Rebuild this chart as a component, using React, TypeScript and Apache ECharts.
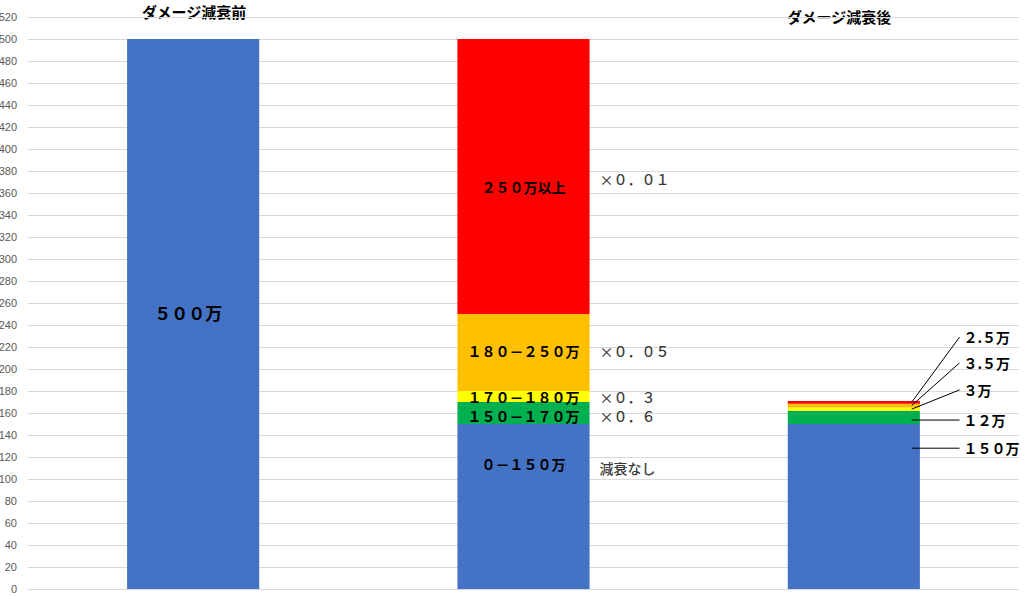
import React, { useEffect, useRef } from 'react';
import * as echarts from 'echarts';

const categories = ['減衰前', '減衰区分', '減衰後'];
const blueValues = [500, 150, 150];
const greenValues = [0, 20, 12];
const yellowValues = [0, 10, 3];
const orangeValues = [0, 70, 3.5];
const redValues = [0, 250, 2.5];

const beforeLabel = '５００万';
const bandLabels = ['０－１５０万', '１５０－１７０万', '１７０－１８０万', '１８０－２５０万', '２５０万以上'];
const rateLabels = ['減衰なし', '×０．６', '×０．３', '×０．０５', '×０．０１'];
const afterLabels = ['１５０万', '１２万', '３万', '３.５万', '２.５万'];
const titleLabels = ['ダメージ減衰前', 'ダメージ減衰後'];

const bandColors = ['#4472C4', '#00B050', '#FFFF00', '#FFC000', '#FF0000'];
const JP_FONT = '"Noto Sans CJK JP", "Noto Sans", sans-serif';

const App: React.FC = () => {
  const chartRef = useRef<HTMLDivElement>(null);

  useEffect(() => {
    if (!chartRef.current) return;
    const chart = echarts.init(chartRef.current, null, { renderer: 'svg' });

    const bands = [blueValues, greenValues, yellowValues, orangeValues, redValues];

    // middle of each segment, per category
    const mids = (col: number) => {
      let base = 0;
      return bands.map(b => {
        const m = base + b[col] / 2;
        base += b[col];
        return m;
      });
    };
    const mid2 = mids(1);
    const mid3 = mids(2);

    // label nudges in px (hand placed text boxes in the original)
    const bandLabelOffsets = [-43, 3, 0, -2, 10];
    const rateOffsets = [-39, 3, 0, -2, 2];
    // where the callout texts sit on the y scale
    const calloutY = [128, 153.6, 181, 205.5, 229];

    const labelText = {
      color: '#000',
      fontSize: 14,
      fontWeight: 'bold' as const,
      fontFamily: JP_FONT
    };

    const barSeries = bands.map((vals, i) => ({
      type: 'bar',
      stack: 'total',
      barWidth: '40%',
      itemStyle: { color: bandColors[i] },
      data: vals.map((v, j) => {
        if (j === 0 && i === 0) {
          return {
            value: v,
            label: { show: true, position: 'inside', formatter: beforeLabel, offset: [-5, -2], ...labelText, fontSize: 17 }
          };
        }
        if (j === 1) {
          return {
            value: v,
            label: { show: true, position: 'inside', formatter: bandLabels[i], offset: [0, bandLabelOffsets[i]], ...labelText }
          };
        }
        return v;
      })
    }));

    const rateSeries = {
      type: 'scatter',
      symbolSize: 0,
      silent: true,
      data: rateLabels.map((t, i) => ({
        value: [1, mid2[i]],
        label: {
          show: true,
          position: 'right',
          distance: 76,
          formatter: t,
          offset: [0, rateOffsets[i]],
          color: '#000',
          fontSize: 14,
          fontWeight: 500,
          fontFamily: JP_FONT
        }
      }))
    };

    const calloutSeries = afterLabels.map((t, i) => {
      const startY = i < 2 ? calloutY[i] : mid3[i];
      return {
        type: 'line',
        xAxisIndex: 1,
        symbol: 'circle',
        symbolSize: 0,
        silent: true,
        lineStyle: { color: '#000', width: 1 },
        data: [
          [2.675, startY],
          {
            value: [2.82, calloutY[i]],
            label: { show: true, position: 'right', distance: 4, formatter: t, ...labelText }
          }
        ]
      };
    });

    chart.setOption({
      animation: false,
      grid: { left: 28, right: 7, top: 17, bottom: 8, outerBoundsMode: 'none' },
      xAxis: [
        {
          type: 'category',
          data: categories,
          axisLine: { show: false },
          axisTick: { show: false },
          axisLabel: { show: false }
        },
        { type: 'value', min: 0, max: 3, show: false }
      ],
      yAxis: {
        type: 'value',
        min: 0,
        max: 520,
        interval: 20,
        axisLine: { show: false },
        axisTick: { show: false },
        axisLabel: { fontSize: 11, color: '#595959', margin: 11, fontFamily: '"Liberation Sans", sans-serif' },
        splitLine: { lineStyle: { color: '#d9d9d9' } }
      },
      graphic: [
        {
          type: 'text',
          x: 194,
          y: 11,
          style: { text: titleLabels[0], align: 'center', verticalAlign: 'middle', fill: '#000', font: `bold 15px ${JP_FONT}` }
        },
        {
          type: 'text',
          x: 839,
          y: 16,
          style: { text: titleLabels[1], align: 'center', verticalAlign: 'middle', fill: '#000', font: `bold 15px ${JP_FONT}` }
        }
      ],
      series: [...barSeries, rateSeries, ...calloutSeries]
    });

    const handleResize = () => chart.resize();
    window.addEventListener('resize', handleResize);
    return () => {
      window.removeEventListener('resize', handleResize);
      chart.dispose();
    };
  }, []);

  return (
    <div
      ref={chartRef}
      style={{ position: 'fixed', left: 0, top: 0, width: '1026px', height: '597px', background: '#fff' }}
    />
  );
};

export default App;
